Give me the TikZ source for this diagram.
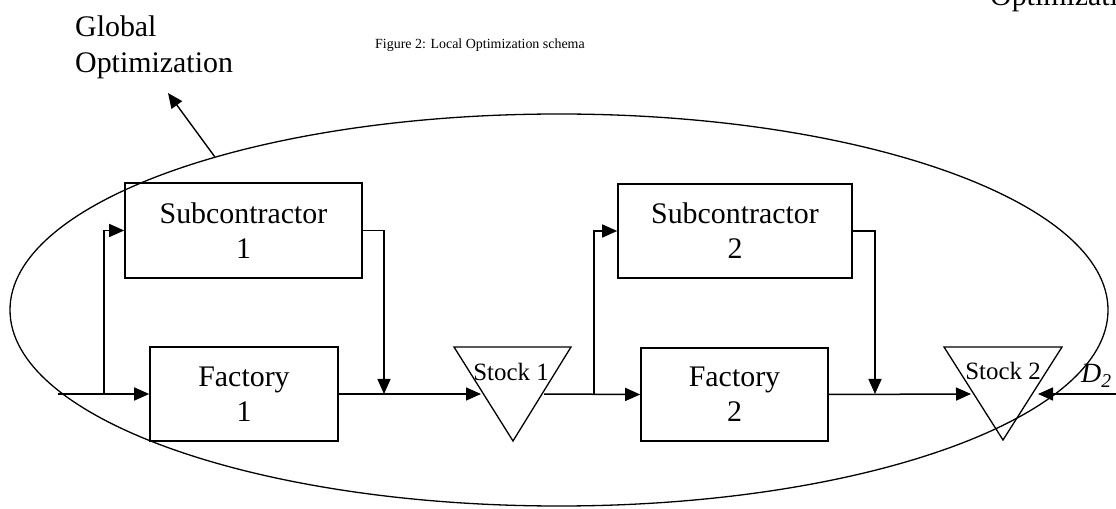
\documentclass[tikz,border=0pt]{standalone}
\usepackage{fontspec}
\setmainfont{Liberation Serif}
\usetikzlibrary{arrows.meta,shapes.geometric}
\begin{document}
\begin{tikzpicture}[x=1bp,y=-1bp,
  box/.style={draw,line width=1.6bp,rectangle,inner sep=0pt,align=center,
    font=\fontsize{30}{35}\selectfont},
  thinline/.style={line width=1.3bp},
  arr/.style={line width=1.5bp,-{Triangle[length=15bp,width=13bp]}},
  stocklabel/.style={inner sep=0pt,anchor=base,font=\fontsize{25}{30}\selectfont},
  bigtext/.style={inner sep=0pt,font=\fontsize{30}{36}\selectfont}]
\useasboundingbox (0,0) rectangle (1116,509);

% global ellipse
\node[draw,thinline,ellipse,minimum width=1098bp,minimum height=392bp,inner sep=0pt] (glob) at (559,310) {};

% labels at top
\node[bigtext,anchor=north west,align=left] (golabel) at (75,15.5) {Global\\Optimization};
\node[bigtext,anchor=base west] (optcut) at (990,6) {Optimization};
\node[inner sep=0pt,anchor=base west,font=\fontsize{14}{17}\selectfont] (caption) at (375,49) {Figure 2: Local Optimization schema};

\coordinate (gotip) at (168,93);
\draw[line width=1.4bp,-{Triangle[length=15bp,width=13bp]}] (glob.156) -- (gotip);

% boxes
\node[box,minimum width=237bp,minimum height=95bp] (sub1) at (243.5,230.5) {Subcontractor\\1};
\node[box,minimum width=188bp,minimum height=94bp] (fac1) at (244,394) {Factory\\1};
\node[box,minimum width=234bp,minimum height=94bp] (sub2) at (735,231) {Subcontractor\\2};
\node[box,minimum width=187bp,minimum height=93bp] (fac2) at (734.5,394.5) {Factory\\2};

% stock triangles
\coordinate (s1a) at (454,347);
\coordinate (s1b) at (571,347);
\coordinate (s1c) at (513,441);
\draw[thinline] (s1a) -- (s1b) -- (s1c) -- cycle;
\node[stocklabel] (stock1) at (511,381) {Stock 1};

\coordinate (s2a) at (944,347);
\coordinate (s2b) at (1062,347);
\coordinate (s2c) at (1003,440);
\draw[thinline] (s2a) -- (s2b) -- (s2c) -- cycle;
\node[stocklabel] (stock2) at (1003,380) {Stock 2};

% connection points
\coordinate (in0) at (58,394);
\coordinate (br1) at (104,394);
\coordinate (j1) at (384,394);
\coordinate (s1in) at (481,394);
\coordinate (s1out) at (544,394);
\coordinate (br2) at (594,394);
\coordinate (j2) at (875,394);
\coordinate (s2in) at (971,394);
\coordinate (s2out) at (1038,394);
\coordinate (d2start) at (1116,394);

% connectors
\draw[arr] (in0) -- (fac1.west);
\draw[arr] (br1) |- (sub1.west);
\draw[arr] (sub1.east) -| (j1);
\draw[arr] (fac1.east) -- (s1in);
\draw[arr] (s1out) -- (fac2.west);
\draw[arr] (br2) |- (sub2.west);
\draw[arr] (sub2.east) -| (j2);
\draw[arr] (fac2.east) -- (s2in);
\draw[arr] (d2start) -- (s2out);

\node[inner sep=0pt,anchor=base west,font=\fontsize{28}{30}\selectfont] (d2) at (1081,383) {\textit{D\textsubscript{2}}};
\end{tikzpicture}
\end{document}
